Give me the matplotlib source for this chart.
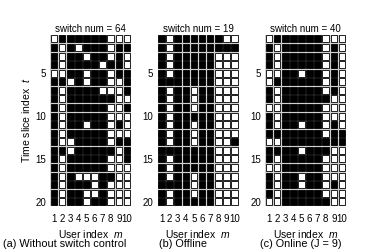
import matplotlib
matplotlib.use("Agg")
import matplotlib.pyplot as plt
from matplotlib.patches import Rectangle

plt.rcParams['font.family'] = ['Liberation Sans', 'DejaVu Sans']
plt.rcParams['mathtext.fontset'] = 'custom'
plt.rcParams['mathtext.it'] = 'Liberation Sans:italic'
plt.rcParams['mathtext.rm'] = 'Liberation Sans'

# 1 = black (user served / selected), 0 = white ; rows = time slices 1..20, cols = users 1..10
grid_a = ["0111111000", "1010111011", "1011011010", "1011110110", "0011011011",
          "1101011001", "1011110001", "1011111100", "1011111001", "1011111000",
          "1011011010", "1011111000", "1001111011", "1101111101", "1011111001",
          "1011111000", "1010001100", "1011101000", "1011001000", "1011011000"]
grid_b = ["1011111100", "1011111111", "1011111000", "1011111000", "1011111000",
          "1111111000", "1011011000", "1011011000", "1011011000", "1011111000",
          "1011011000", "1011011000", "1011011001", "1111111000", "1011111000",
          "1011111000", "1011011000", "1111011000", "1011011000", "1011111000"]
grid_c = ["0111111000", "1011111010", "1011111010", "1011111010", "0011011010",
          "0111111010", "1011111010", "1011111100", "0011111000", "1011111000",
          "1011011010", "1111111011", "0011111111", "1111011100", "1011111000",
          "0011111000", "1011011000", "1011011010", "1011111000", "0011111100"]
switch_nums = [64, 19, 40]
captions = ["(a) Without switch control", "(b) Offline", "(c) Online (J = 9)"]
user_ticks = [1, 2, 3, 4, 5, 6, 7, 8, 9, 10]
time_ticks = [5, 10, 15, 20]

W, H = 382, 252
fig = plt.figure(figsize=(W / 100, H / 100), dpi=100)
lefts = [50, 157.5, 265]
cap_x = [65, 183, 301]
gw, gtop, gbot = 81, 34.7, 206

for k, (grid, sn, cap) in enumerate(zip([grid_a, grid_b, grid_c], switch_nums, captions)):
    ax = fig.add_axes([lefts[k] / W, (H - gbot) / H, gw / W, (gbot - gtop) / H])
    ax.set_facecolor('#d0d0d0')
    for r, row in enumerate(grid):
        for c, v in enumerate(row):
            fc = 'black' if v == '1' else 'white'
            ax.add_patch(Rectangle((c + 1 - 0.41, r + 1 - 0.41), 0.82, 0.82,
                                   facecolor=fc, edgecolor='black', linewidth=0.6))
    ax.set_xlim(0.5, 10.5)
    ax.set_ylim(20.5, 0.5)
    ax.set_xticks(user_ticks)
    ax.set_xticklabels([str(u) for u in user_ticks], fontsize=7)
    ax.set_yticks(time_ticks)
    ax.set_yticklabels([str(t) for t in time_ticks], fontsize=7)
    ax.tick_params(axis='x', length=0, pad=6)
    ax.tick_params(axis='y', length=0, pad=3)
    for s in ax.spines.values():
        s.set_visible(False)
    ax.set_title(f"switch num = {sn}", fontsize=7, pad=2)
    ax.set_xlabel(r"User index  $m$", fontsize=7.5, labelpad=3)
    fig.text(cap_x[k] / W, 1 - 244 / H, cap, ha='center', va='center', fontsize=7.8)
    if k == 0:
        ax.set_ylabel(r"Time slice index  $t$", fontsize=7.5, labelpad=2)

fig.savefig("out.png", dpi=100)
